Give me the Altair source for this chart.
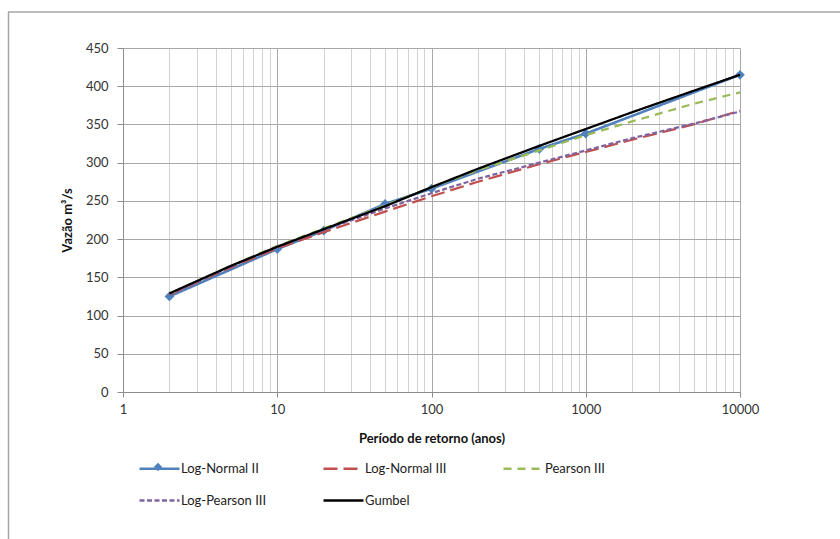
import altair as alt
import pandas as pd

# ---------------- data ----------------
SERIES = ["Log-Normal II", "Log-Normal III", "Pearson III", "Log-Pearson III", "Gumbel"]
COLORS = ["#4F81BD", "#C0504D", "#9BBB59", "#8064A2", "#000000"]
DASHES = [[1, 0], [14, 6], [8, 6], [5, 2.5], [1, 0]]

T_LN2 = [2, 10, 20, 50, 100, 500, 1000, 10000]
Q_LN2 = [125, 187, 211, 246, 266, 318, 338, 415]

T_CURVE = [2, 5, 10, 20, 50, 100, 200, 500, 1000, 2000, 5000, 10000]
Q_LN3 = [127, 163, 188, 209, 236, 256, 275, 298, 314, 330, 350, 368]
Q_P3 = [128, 165, 191, 214, 244, 268, 290, 316, 336, 354, 377, 392]
Q_LP3 = [127, 164, 190, 212, 240, 260, 279, 300, 316, 332, 351, 367]
Q_GUMBEL = [129, 165, 190, 213, 243, 268, 292, 322, 344, 366, 394, 415]

Y_TICKS = list(range(0, 451, 50))

# ---------------- tables ----------------
ln2 = pd.DataFrame({"T": T_LN2, "Q": Q_LN2, "serie": "Log-Normal II"})
others = pd.concat([
    pd.DataFrame({"T": T_CURVE, "Q": Q_LN3, "serie": "Log-Normal III"}),
    pd.DataFrame({"T": T_CURVE, "Q": Q_P3, "serie": "Pearson III"}),
    pd.DataFrame({"T": T_CURVE, "Q": Q_LP3, "serie": "Log-Pearson III"}),
], ignore_index=True)
gumbel = pd.DataFrame({"T": T_CURVE, "Q": Q_GUMBEL, "serie": "Gumbel"})

FONT = "Lato"
GRID_VALUES = sorted({m * d for d in [1, 10, 100, 1000] for m in range(1, 10)} | {10000})
IS_DEC = "indexof([1,10,100,1000,10000], datum.value) >= 0"

x_axis = alt.Axis(
    values=GRID_VALUES, format="d",
    labelExpr=f"{IS_DEC} ? datum.label : ''",
    labelOverlap=False, labelFlush=False,
    grid=True,
    gridColor={"condition": {"test": IS_DEC, "value": "#a8a8a8"}, "value": "#d2d2d2"},
    tickColor={"condition": {"test": IS_DEC, "value": "#8c8c8c"}, "value": "transparent"},
    tickSize=5, domainColor="#8c8c8c",
    labelFont=FONT, labelFontSize=13, labelColor="#333333", labelPadding=6,
    title="Período de retorno (anos)", titleFont=FONT, titleFontSize=13,
    titleFontWeight="bold", titleColor="#111111", titlePadding=16,
)
y_axis = alt.Axis(
    values=Y_TICKS, grid=True, gridColor="#a8a8a8", tickColor="#8c8c8c",
    tickSize=6, domainColor="#8c8c8c",
    labelFont=FONT, labelFontSize=13, labelColor="#333333", labelPadding=9,
    title="Vazão m³/s", titleFont=FONT, titleFontSize=13,
    titleFontWeight="bold", titleColor="#111111", titlePadding=11,
)

x_enc = alt.X("T:Q", scale=alt.Scale(type="log", domain=[1, 10000]), axis=x_axis)
y_enc = alt.Y("Q:Q", scale=alt.Scale(domain=[0, 450], nice=False), axis=y_axis)

LINE_SYMBOL = "M-1,0H3"

legend = alt.Legend(
    title=None, orient="none", legendX=15, legendY=409, columns=3,
    direction="horizontal",
    columnPadding=51, rowPadding=13, padding=0,
    symbolType=LINE_SYMBOL, symbolSize=400, symbolStrokeWidth=2.5,
    labelFont=FONT, labelFontSize=13, labelColor="#222222", labelOffset=20,
)

color = alt.Color("serie:N", scale=alt.Scale(domain=SERIES, range=COLORS), legend=legend)
dash = alt.StrokeDash("serie:N", scale=alt.Scale(domain=SERIES, range=DASHES), legend=legend)

markers = alt.Chart(ln2).mark_point(shape="diamond", filled=True, size=95, opacity=1).encode(
    x=x_enc, y=y_enc, color=alt.value("#4F81BD")
)
ln2_line = alt.Chart(ln2).mark_line(strokeWidth=2.6).encode(
    x=x_enc, y=y_enc, color=color, strokeDash=dash
)
other_lines = alt.Chart(others).mark_line(strokeWidth=2.25).encode(
    x=x_enc, y=y_enc, color=color, strokeDash=dash
)
gumbel_line = alt.Chart(gumbel).mark_line(strokeWidth=2.25).encode(
    x=x_enc, y=y_enc, color=color, strokeDash=dash
)

# decoration: diamond on the Log-Normal II legend swatch, and the chart frame
legend_diamond = alt.Chart(alt.Data(values=[{}])).mark_point(
    shape="diamond", filled=True, size=70, color="#4F81BD", opacity=1
).encode(x=alt.value(35), y=alt.value(419))
border_left = alt.Chart(alt.Data(values=[{}])).mark_rule(color="#a6a6a6", strokeWidth=1.5).encode(
    x=alt.value(-114.5), y=alt.value(-36), y2=alt.value(500)
)
border_top = alt.Chart(alt.Data(values=[{}])).mark_rule(color="#a6a6a6", strokeWidth=1.5).encode(
    x=alt.value(-115), x2=alt.value(720), y=alt.value(-36)
)

chart = alt.layer(
    border_left, border_top, markers, ln2_line, other_lines, gumbel_line, legend_diamond
).properties(
    width=617, height=344,
    padding={"left": 123, "top": 48, "right": 100, "bottom": 147},
    autosize=alt.AutoSizeParams(type="none"),
    background="white",
).configure_view(stroke=None)

chart.save("out.html", embed_options={"renderer": "svg", "actions": False})
